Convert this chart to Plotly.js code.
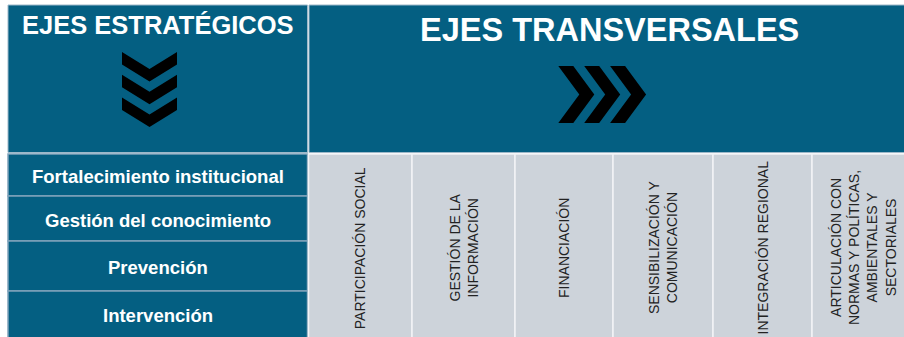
<!DOCTYPE html>
<html>
<head>
<meta charset="utf-8">
<script src="https://cdn.plot.ly/plotly-3.0.1.min.js"></script>
<style>html,body{margin:0;padding:0;background:#fff;}#chart{width:904px;height:337px;}</style>
</head>
<body>
<div id="chart"></div>
<script>
// ---- content ----
const tituloEstrategicos = "EJES ESTRATÉGICOS";
const tituloTransversales = "EJES TRANSVERSALES";
const ejesEstrategicos = [
  "Fortalecimiento institucional",
  "Gestión del conocimiento",
  "Prevención",
  "Intervención"
];
const ejesTransversales = [
  "PARTICIPACIÓN SOCIAL",
  "GESTIÓN DE LA<br>INFORMACIÓN",
  "FINANCIACIÓN",
  "SENSIBILIZACIÓN Y<br>COMUNICACIÓN",
  "INTEGRACIÓN REGIONAL",
  "ARTICULACIÓN CON<br>NORMAS Y POLÍTICAS,<br>AMBIENTALES Y<br>SECTORIALES"
];

// ---- layout geometry (pixels) ----
const BLUE = "#045F82", GRAY = "#CDD3DA", LINE = "#7FA3BA";
const leftX0 = 8, leftX1 = 307.5, rightX1 = 914;
const headY0 = 5, headY1 = 152.5, bodyY0 = 154, bodyY1 = 345;
const rowEdges = [154, 196, 241, 291, 345];
const colEdges = [308.5, 412, 515, 613, 713, 812, 914];

const shapes = [];
const annotations = [];
function rect(x0, y0, x1, y1, fill, lc, lw) {
  shapes.push({type: "rect", xref: "x", yref: "y", x0, y0, x1, y1, fillcolor: fill,
    line: {color: lc || fill, width: lw || 0}, layer: "below"});
}
// headers
rect(leftX0, headY0, leftX1, headY1, BLUE, "#9DB8C9", 1);
rect(leftX1 + 1.5, headY0, rightX1, headY1, BLUE, "#9DB8C9", 1);
// left rows
ejesEstrategicos.forEach((lab, i) => {
  rect(leftX0, rowEdges[i], leftX1, rowEdges[i + 1], BLUE, LINE, 1.5);
  annotations.push({x: (leftX0 + leftX1) / 2, y: (rowEdges[i] + Math.min(rowEdges[i + 1], 337)) / 2 + 1.5,
    xref: "x", yref: "y", text: lab, showarrow: false, xanchor: "center", yanchor: "middle",
    font: {family: "Liberation Sans, Arial, sans-serif", size: 18.5, color: "#ffffff", weight: 700}});
});
// right columns
ejesTransversales.forEach((lab, i) => {
  rect(colEdges[i], bodyY0, colEdges[i + 1], bodyY1, GRAY, "#F2F4F6", 1.5);
  annotations.push({x: (colEdges[i] + colEdges[i + 1]) / 2, y: 248,
    xref: "x", yref: "y", text: lab, showarrow: false, textangle: -90,
    xanchor: "center", yanchor: "middle", align: "center",
    font: {family: "Liberation Sans, Arial, sans-serif", size: 14, color: "#222222"}});
});
// titles
annotations.push({x: (leftX0 + leftX1) / 2, y: 25, xref: "x", yref: "y", text: tituloEstrategicos,
  showarrow: false, xanchor: "center", yanchor: "middle",
  font: {family: "Liberation Sans, Arial, sans-serif", size: 25.5, color: "#ffffff", weight: 700}});
annotations.push({x: 609, y: 30, xref: "x", yref: "y", text: tituloTransversales,
  showarrow: false, xanchor: "center", yanchor: "middle",
  font: {family: "Liberation Sans, Arial, sans-serif", size: 32.5, color: "#ffffff", weight: 700}});

// chevrons (decorative)
for (let i = 0; i < 3; i++) {
  const y0 = 52 + i * 22.7, cx = 149.5, hw = 27.5, d = 17, t = 12.5;
  shapes.push({type: "path", xref: "x", yref: "y", fillcolor: "#000", line: {width: 0},
    path: `M${cx - hw},${y0} L${cx},${y0 + d} L${cx + hw},${y0} L${cx + hw},${y0 + t} L${cx},${y0 + d + t} L${cx - hw},${y0 + t} Z`});
}
for (let i = 0; i < 3; i++) {
  const x0 = 558.3 + i * 25.9, ty = 66, by = 123, my = 94.5, w = 15, dep = 36;
  shapes.push({type: "path", xref: "x", yref: "y", fillcolor: "#000", line: {width: 0},
    path: `M${x0},${ty} L${x0 + w},${ty} L${x0 + dep},${my} L${x0 + w},${by} L${x0},${by} L${x0 + dep - w},${my} Z`});
}

const layout = {
  width: 904, height: 337, margin: {l: 0, r: 0, t: 0, b: 0},
  paper_bgcolor: "#ffffff", plot_bgcolor: "#ffffff", showlegend: false,
  xaxis: {range: [0, 904], visible: false, fixedrange: true},
  yaxis: {range: [337, 0], visible: false, fixedrange: true},
  shapes, annotations
};
Plotly.newPlot("chart", [{x: [], y: [], type: "scatter", hoverinfo: "skip"}], layout, {displayModeBar: false, staticPlot: true});
</script>
</body>
</html>
